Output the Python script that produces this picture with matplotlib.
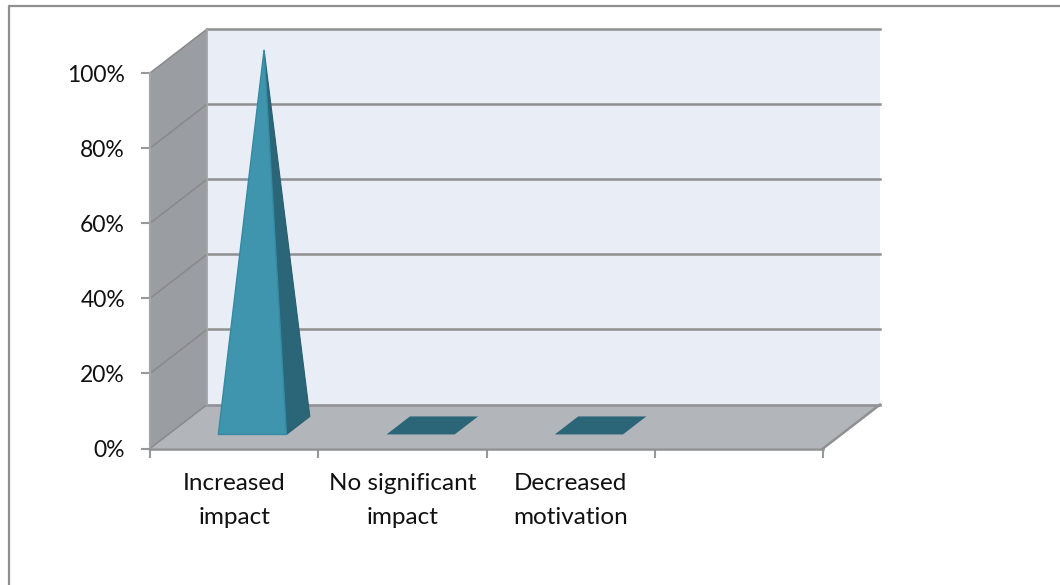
import matplotlib
matplotlib.use("Agg")
import matplotlib.pyplot as plt
from matplotlib.lines import Line2D
from matplotlib.patches import Polygon

plt.rcParams['font.family'] = ['Lato', 'DejaVu Sans']

# valores del grafico
categorias = ["Increased\nimpact", "No significant\nimpact", "Decreased\nmotivation"]
valores = [100, 0, 0]
ticks_y = [0, 20, 40, 60, 80, 100]
n_slots = 4

# estilo de la caja 3D
prof_x = 0.339   # desplazamiento de la pared del fondo en unidades de categoria
prof_y = 11.7    # lo mismo en puntos porcentuales
base_ini = 0.32  # profundidad donde empieza la piramide
base_fin = 0.73  # profundidad donde termina
ancho = 0.405

GRIS = "#8e9092"
PARED = "#e9eef6"
LATERAL = "#9a9da2"
PISO = "#b2b5b9"
FRENTE = "#3f95ae"
LADO = "#2a6578"

fig = plt.figure(figsize=(10.6, 5.85), dpi=100)

# marco: solo arriba y a la izquierda
fig.add_artist(Line2D([9 / 1060, 9 / 1060, 1], [0, 1 - 6 / 585, 1 - 6 / 585],
                      transform=fig.transFigure, color="#8f8f8f", lw=1.6))

ax = fig.add_axes([150 / 1060, 1 - 448.5 / 585, 673 / 1060, 375.5 / 585])
ax.set_xlim(0, n_slots)
ax.set_ylim(0, 100)
ax.patch.set_visible(False)
for s in ax.spines.values():
    s.set_visible(False)


def prof(x, y, d):
    # punto (x, y) llevado a la profundidad d
    return (x + prof_x * d, y + prof_y * d)


# pared del fondo, pared lateral y piso
ax.add_patch(Polygon([prof(0, 0, 1), prof(n_slots, 0, 1), prof(n_slots, 100, 1), prof(0, 100, 1)],
                     fc=PARED, ec="none", clip_on=False, zorder=1))
ax.add_patch(Polygon([(0, 0), prof(0, 0, 1), prof(0, 100, 1), (0, 100)],
                     fc=LATERAL, ec="none", clip_on=False, zorder=1))
ax.add_patch(Polygon([(0, 0), (n_slots, 0), prof(n_slots, 0, 1), prof(0, 0, 1)],
                     fc=PISO, ec="none", clip_on=False, zorder=1))

# lineas de la cuadricula
for t in ticks_y:
    esq = prof(0, t, 1)
    fin = prof(n_slots, t, 1)
    ax.plot([0, esq[0]], [t, esq[1]], color="#87898c", lw=1.1, clip_on=False, zorder=2)
    ax.plot([esq[0], fin[0]], [esq[1], fin[1]], color=GRIS, lw=1.8, clip_on=False, zorder=2)
ax.plot([0, 0], [0, 100], color="#a3a5a7", lw=1.6, clip_on=False, zorder=2)
ax.plot(*zip(prof(0, 0, 1), prof(0, 100, 1)), color="#a3a5a7", lw=1.3, clip_on=False, zorder=2)
ax.plot(*zip((n_slots, 0), prof(n_slots, 0, 1)), color=GRIS, lw=1.8, clip_on=False, zorder=2)
ax.plot([0, n_slots], [0, 0], color=GRIS, lw=1.8, clip_on=False, zorder=3)

# piramides: las de valor cero quedan como un rombo en el piso
for i, v in enumerate(valores):
    c = i + 0.5
    izq = c - ancho / 2
    der = c + ancho / 2
    d_medio = (base_ini + base_fin) / 2
    fi = prof(izq, 0, base_ini)
    fd = prof(der, 0, base_ini)
    ad = prof(der, 0, base_fin)
    ai = prof(izq, 0, base_fin)
    cima = prof(c, v, d_medio)
    if v > 0:
        ax.add_patch(Polygon([fd, ad, cima], fc=LADO, ec="#27606f", lw=0.8, clip_on=False, zorder=4))
        ax.add_patch(Polygon([fi, fd, cima], fc=FRENTE, ec="#348aa3", lw=1, clip_on=False, zorder=5))
    else:
        ax.add_patch(Polygon([fi, fd, ad, ai], fc=LADO, ec="none", clip_on=False, zorder=4))

ax.set_yticks(ticks_y)
ax.set_yticklabels([f"{t}%" for t in ticks_y], fontsize=16.5, color="#111111")
ax.set_xticks(range(n_slots + 1))
ax.set_xticklabels([])
ax.tick_params(axis="both", color="#96989a", width=1.5, length=6.5)
ax.tick_params(axis="y", pad=11.5)

for i, nombre in enumerate(categorias):
    ax.text(i + 0.5, -6.5, nombre, ha="center", va="top", fontsize=17.5, color="#111111",
            linespacing=1.75, clip_on=False)

fig.savefig("out.png", dpi=100)
